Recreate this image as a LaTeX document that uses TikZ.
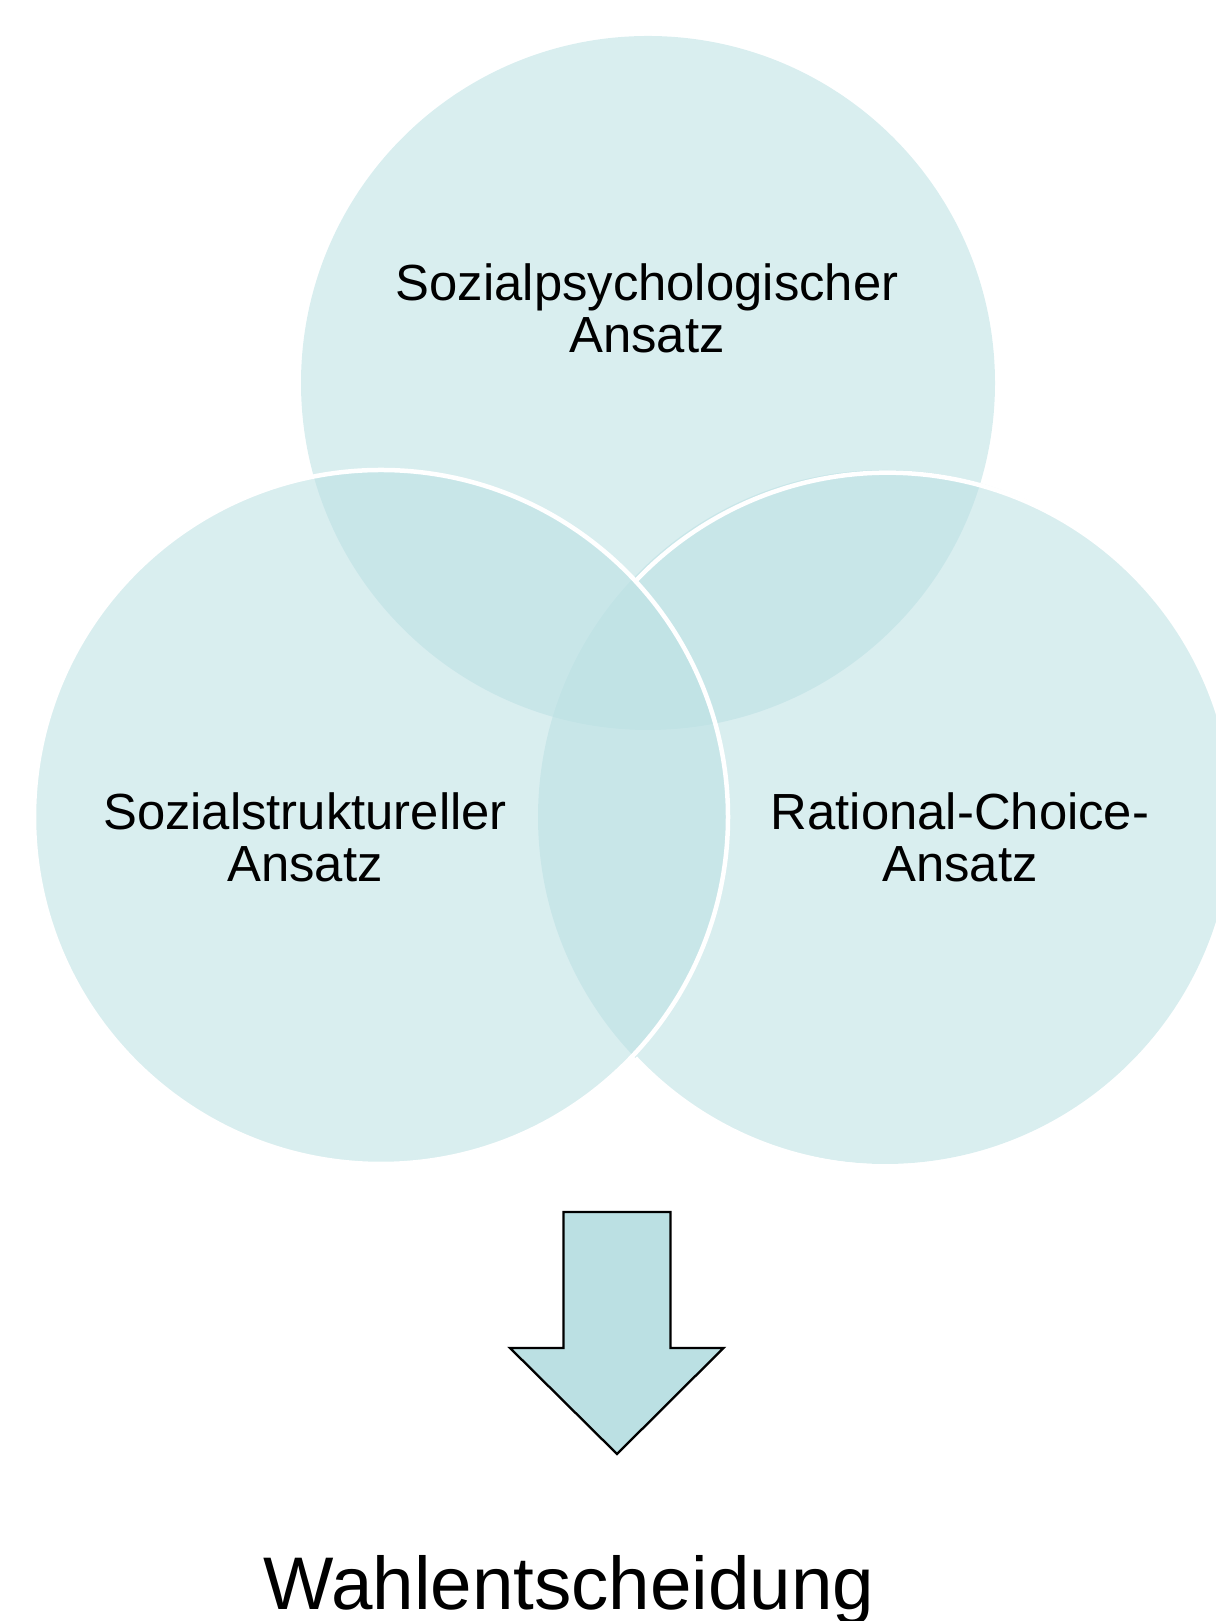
\documentclass[tikz,border=0pt]{standalone}
\usepackage{fontspec}
\setmainfont{Liberation Sans}
\definecolor{venn}{HTML}{BBE0E3}
\begin{document}
\begin{tikzpicture}[x=1pt, y=1pt,
  approach/.style={circle, minimum size=694pt, inner sep=0pt, outer sep=0pt,
    fill=venn, fill opacity=0.56, draw=none},
  ring/.style={draw=white, line width=4.5pt},
  vennlabel/.style={anchor=base, align=center, inner sep=0pt, text=black,
    font=\fontsize{50.8}{52}\selectfont},
  result/.style={anchor=base, inner sep=0pt, text=black,
    font=\fontsize{74.6}{80}\selectfont},
  downarrow/.style={fill=venn, draw=black, line width=2.3pt, line join=miter}]
\useasboundingbox (0,0) rectangle (1215,1621);

% the three overlapping circles
\node[approach] (top)   at (648,1238) {};
\node[approach] (right) at (885,804) {};
\node[approach] (left)  at (381,804) {};

% white rims: the right circle's rim is hidden where the left circle lies on it
\draw[ring] (right.-136.6) arc[start angle=-136.6, end angle=136.6, radius=347];
\draw[ring] (left.0) arc[start angle=0, end angle=360, radius=347];

% circle captions (anchored at the baseline of their last line)
\node[vennlabel] (toptext)   at (647,1268) {Sozialpsychologischer\\Ansatz};
\node[vennlabel] (lefttext)  at (305,739) {Sozialstruktureller\\Ansatz};
\node[vennlabel] (righttext) at (960,739) {Rational-Choice-\\Ansatz};

% block arrow pointing down to the outcome
\coordinate (arrowtop) at (617,409);
\draw[downarrow] (arrowtop) ++(-53.5,0) -- ++(107,0) -- ++(0,-136)
  -- ++(53,0) -- (617,167) -- (510,273) -- (563.5,273) -- cycle;

\node[result] (outcome) at (569,12) {Wahlentscheidung};
\end{tikzpicture}
\end{document}
